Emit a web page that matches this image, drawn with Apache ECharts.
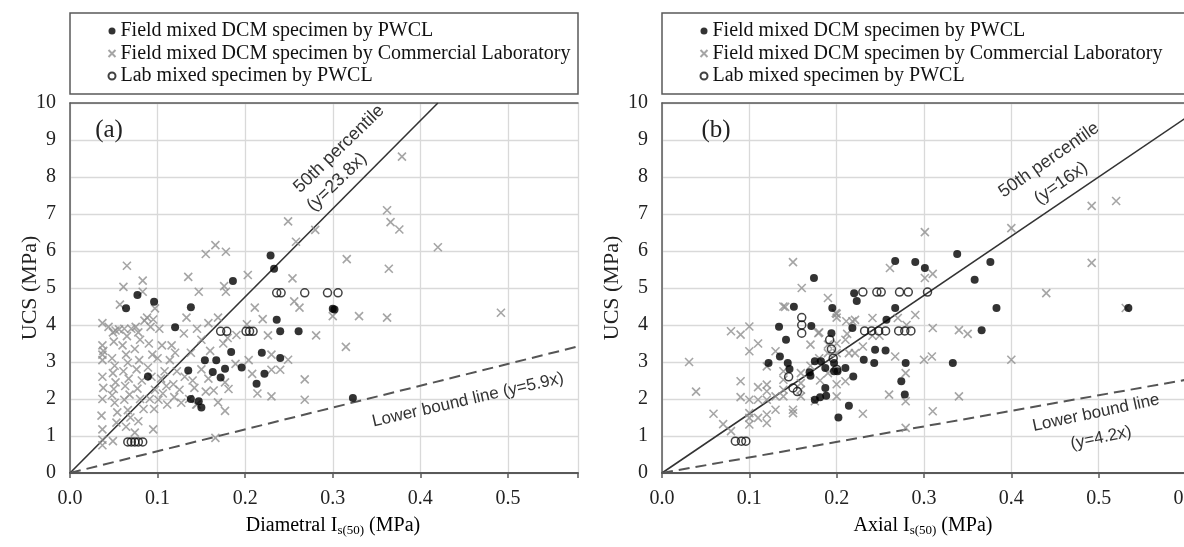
<!DOCTYPE html>
<html><head><meta charset="utf-8">
<script src="https://cdn.jsdelivr.net/npm/echarts@6/dist/echarts.min.js"></script>
<style>html,body{margin:0;padding:0;background:#fff}#c{width:1184px;height:547px}</style>
</head><body><div id="c"></div>
<script>
// ---------- DATA ----------
const seriesNames = ['Field mixed DCM specimen by PWCL', 'Field mixed DCM specimen by Commercial Laboratory', 'Lab mixed specimen by PWCL'];
const xTickValues = [0, 0.1, 0.2, 0.3, 0.4, 0.5, 0.6];
const yTickValues = [0, 1, 2, 3, 4, 5, 6, 7, 8, 9, 10];

// Panel (a): Diametral Is(50) vs UCS
const aPWCL = [[0.064,4.45],[0.077,4.81],[0.096,4.63],[0.138,4.48],[0.186,5.19],[0.229,5.88],[0.233,5.52],[0.236,4.14],[0.240,3.83],[0.261,3.83],[0.300,4.44],[0.302,4.42],[0.120,3.94],[0.184,3.27],[0.219,3.25],[0.240,3.11],[0.154,3.05],[0.167,3.05],[0.135,2.77],[0.163,2.73],[0.172,2.58],[0.177,2.82],[0.196,2.85],[0.213,2.41],[0.222,2.68],[0.138,2.0],[0.147,1.94],[0.150,1.77],[0.089,2.61],[0.323,2.03]];
const aLab = [[0.066,0.84],[0.070,0.84],[0.074,0.84],[0.078,0.84],[0.083,0.84],[0.172,3.83],[0.179,3.83],[0.201,3.83],[0.205,3.83],[0.209,3.83],[0.236,4.87],[0.241,4.87],[0.268,4.87],[0.294,4.87],[0.306,4.87]];
const aCommercial = [[0.065,5.6],[0.061,5.03],[0.083,5.2],[0.083,4.9],[0.057,4.55],[0.097,4.45],[0.135,5.3],[0.147,4.9],[0.155,5.92],[0.166,6.16],[0.178,5.98],[0.176,5.05],[0.178,4.9],[0.169,4.2],[0.203,5.35],[0.211,4.47],[0.220,4.16],[0.249,6.8],[0.258,6.25],[0.254,5.26],[0.256,4.64],[0.262,4.47],[0.280,6.57],[0.316,5.78],[0.362,7.1],[0.366,6.78],[0.376,6.58],[0.379,8.55],[0.420,6.1],[0.364,5.52],[0.300,4.24],[0.330,4.24],[0.362,4.2],[0.492,4.33],[0.226,3.72],[0.281,3.72],[0.315,3.41],[0.202,4.02],[0.158,4.05],[0.190,3.73],[0.204,3.05],[0.189,2.95],[0.230,3.2],[0.249,3.06],[0.208,2.68],[0.230,2.79],[0.240,2.79],[0.214,2.15],[0.230,2.07],[0.268,2.53],[0.268,1.98],[0.177,2.45],[0.181,2.27],[0.177,1.68],[0.158,2.55],[0.164,2.23],[0.169,1.91],[0.166,0.95],[0.130,3.77],[0.145,3.9],[0.150,3.6],[0.160,3.3],[0.175,3.5],[0.180,3.65],[0.150,2.8],[0.140,2.5],[0.155,2.2],[0.145,1.85],
[0.037,4.05],[0.037,3.45],[0.038,3.3],[0.037,3.2],[0.037,3.05],[0.037,2.6],[0.038,2.3],[0.037,2.0],[0.036,1.55],[0.037,1.18],[0.037,0.9],[0.037,0.75],
[0.049,3.8],[0.050,3.55],[0.048,3.1],[0.051,2.9],[0.049,2.7],[0.052,2.45],[0.050,2.27],[0.048,2.1],[0.051,1.9],[0.054,1.64],[0.053,1.36],[0.049,0.86],
[0.062,3.9],[0.065,3.7],[0.060,3.45],[0.064,3.2],[0.066,2.98],[0.061,2.75],[0.067,2.55],[0.063,2.35],[0.068,2.12],[0.062,1.98],[0.066,1.7],[0.069,1.5],[0.064,1.25],
[0.075,3.95],[0.078,3.8],[0.080,3.6],[0.074,3.35],[0.079,3.05],[0.076,2.8],[0.082,2.5],[0.077,2.28],[0.080,2.0],[0.084,1.73],[0.078,1.4],[0.074,1.09],
[0.088,4.2],[0.092,3.95],[0.090,3.5],[0.094,3.2],[0.089,2.85],[0.093,2.6],[0.097,2.25],[0.091,2.0],[0.096,1.73],[0.095,1.18],
[0.102,3.9],[0.105,3.45],[0.100,3.1],[0.108,2.75],[0.104,2.55],[0.110,2.35],[0.106,2.15],[0.101,1.98],[0.111,1.85],
[0.116,3.45],[0.120,3.25],[0.114,3.05],[0.122,2.75],[0.118,2.4],[0.125,2.25],[0.119,2.05],[0.127,1.9],
[0.133,4.2],[0.138,3.25],[0.131,2.6],[0.142,2.3],[0.136,2.0],[0.144,1.85],
[0.044,3.95],[0.052,3.85],[0.056,3.88],[0.070,3.9],[0.085,4.12],[0.095,4.15]];
const aLine50 = [[0, 0], [0.42, 10.0]];     // y = 23.8x
const aLineLow = [[0, 0], [0.58, 3.42]];    // y = 5.9x

// Panel (b): Axial Is(50) vs UCS
const bPWCL = [[0.174,5.27],[0.151,4.49],[0.195,4.46],[0.220,4.86],[0.223,4.65],[0.218,3.92],[0.194,3.78],[0.171,3.97],[0.134,3.95],[0.142,3.6],[0.267,5.73],[0.290,5.70],[0.301,5.54],[0.338,5.92],[0.376,5.70],[0.358,5.22],[0.383,4.46],[0.534,4.46],[0.267,4.46],[0.257,4.14],[0.366,3.86],[0.122,2.97],[0.135,3.15],[0.144,2.97],[0.146,2.81],[0.169,2.72],[0.170,2.63],[0.175,3.02],[0.175,1.98],[0.181,2.05],[0.187,2.30],[0.188,2.09],[0.182,3.02],[0.187,2.84],[0.197,2.97],[0.197,2.75],[0.201,2.75],[0.210,2.84],[0.202,1.50],[0.214,1.82],[0.219,2.61],[0.231,3.06],[0.243,2.97],[0.244,3.33],[0.256,3.31],[0.274,2.48],[0.279,2.97],[0.278,2.12],[0.333,2.97]];
const bLab = [[0.084,0.86],[0.091,0.86],[0.096,0.86],[0.160,4.2],[0.160,4.0],[0.160,3.78],[0.145,2.6],[0.150,2.3],[0.155,2.2],[0.192,3.6],[0.194,3.35],[0.196,3.1],[0.200,2.8],[0.230,4.89],[0.246,4.89],[0.251,4.89],[0.272,4.89],[0.282,4.89],[0.304,4.89],[0.232,3.84],[0.240,3.84],[0.248,3.84],[0.256,3.84],[0.271,3.84],[0.278,3.84],[0.285,3.84]];
const bCommercial = [[0.031,3.0],[0.039,2.2],[0.059,1.6],[0.070,1.32],[0.079,1.13],[0.079,3.83],[0.090,3.74],[0.100,3.96],[0.100,3.29],[0.090,2.48],[0.090,2.05],[0.100,1.98],[0.100,1.62],[0.100,1.49],[0.100,1.31],[0.110,3.50],[0.110,2.32],[0.110,1.98],[0.110,1.49],[0.120,2.39],[0.120,2.21],[0.120,1.98],[0.120,1.58],[0.120,1.35],[0.120,2.88],[0.130,3.29],[0.130,2.07],[0.130,1.71],[0.139,4.5],[0.139,2.75],[0.139,2.52],[0.139,2.25],[0.139,2.07],[0.150,1.71],[0.150,1.62],[0.159,2.70],[0.159,2.43],[0.159,2.25],[0.159,2.07],[0.150,5.7],[0.160,5.0],[0.141,4.49],[0.190,4.73],[0.200,4.30],[0.200,4.20],[0.211,4.10],[0.218,4.10],[0.212,3.76],[0.180,3.80],[0.241,4.19],[0.270,4.19],[0.290,4.27],[0.280,4.0],[0.301,6.51],[0.400,6.62],[0.492,7.22],[0.520,7.35],[0.492,5.68],[0.440,4.86],[0.531,4.46],[0.261,5.54],[0.301,5.27],[0.310,5.38],[0.310,3.92],[0.340,3.86],[0.350,3.76],[0.267,3.15],[0.260,2.12],[0.279,2.70],[0.279,1.94],[0.279,1.22],[0.300,3.06],[0.309,3.15],[0.310,1.67],[0.340,2.07],[0.400,3.06],[0.241,3.71],[0.249,3.71],[0.230,3.42],[0.230,1.60],[0.210,3.60],[0.210,2.48],[0.200,2.07],[0.181,2.50],[0.175,1.94],[0.179,3.78],[0.190,3.47],[0.199,4.32],[0.221,4.14],[0.214,3.24],[0.221,3.24],[0.190,3.24],[0.200,3.24],[0.170,3.47],[0.200,3.50],[0.180,3.1],[0.170,2.9],[0.190,2.7],[0.200,2.4]];
const bLine50 = [[0, 0], [0.6, 9.6]];       // y = 16x
const bLineLow = [[0, 0], [0.6, 2.52]];     // y = 4.2x

// ---------- STYLE ----------
const SERIF = 'Liberation Serif';
const SANS = 'Liberation Sans';
const AXIS_COLOR = '#595959';
const GRID_COLOR = '#d9d9d9';
const CROSS = 'path://M0,0L10,10M10,0L0,10';

function xLabel(v) {
  return Math.abs(v * 10 - Math.round(v * 10)) < 1e-6 ? v.toFixed(1) : '';
}
function bottomX(gridIndex, max) {
  return {
    type: 'value', gridIndex, min: 0, max, interval: 0.1, position: 'bottom',
    axisLine: { show: true, onZero: false, lineStyle: { color: AXIS_COLOR, width: 2 } },
    axisTick: { show: true, length: 5, lineStyle: { color: AXIS_COLOR, width: 1.5 } },
    axisLabel: { formatter: xLabel, fontFamily: SERIF, fontSize: 20, color: '#222', margin: 16, showMaxLabel: true, hideOverlap: false },
    splitLine: { show: true, lineStyle: { color: GRID_COLOR, width: 1.3 } }
  };
}
function topX(gridIndex) {
  return {
    type: 'value', gridIndex, min: 0, max: 1, position: 'top',
    axisLine: { show: true, onZero: false, lineStyle: { color: AXIS_COLOR, width: 1.5 } },
    axisTick: { show: false }, axisLabel: { show: false }, splitLine: { show: false }
  };
}
function leftY(gridIndex) {
  return {
    type: 'value', gridIndex, min: 0, max: 10, interval: 1,
    axisLine: { show: true, onZero: false, lineStyle: { color: AXIS_COLOR, width: 1.5 } },
    axisTick: { show: false },
    axisLabel: { fontFamily: SERIF, fontSize: 20, color: '#222', margin: 14 },
    splitLine: { show: true, lineStyle: { color: GRID_COLOR, width: 1.3 } }
  };
}
function crossSeries(data, idx) {
  return { name: seriesNames[1], type: 'scatter', xAxisIndex: idx, yAxisIndex: idx, data,
    symbol: CROSS, symbolSize: 8,
    itemStyle: { color: 'none', borderColor: '#8f8f8f', borderWidth: 1.6 }, z: 3 };
}
function dotSeries(data, idx) {
  return { name: seriesNames[0], type: 'scatter', xAxisIndex: idx, yAxisIndex: idx, data,
    symbol: 'circle', symbolSize: 8, itemStyle: { color: '#000' }, z: 4 };
}
function ringSeries(data, idx) {
  return { name: seriesNames[2], type: 'scatter', xAxisIndex: idx, yAxisIndex: idx, data,
    symbol: 'circle', symbolSize: 8,
    itemStyle: { color: 'rgba(0,0,0,0)', borderColor: '#111', borderWidth: 1.5 }, z: 5 };
}
function fitLine(data, idx, dashed) {
  return { type: 'line', xAxisIndex: idx, yAxisIndex: idx, data, symbol: 'none', silent: true,
    lineStyle: dashed ? { color: '#555', width: 2, type: [11, 6] } : { color: '#333', width: 1.6 }, z: 2 };
}
function legend(left) {
  return { orient: 'vertical', left, top: 16, itemGap: 2.5, itemWidth: 7, itemHeight: 7,
    data: seriesNames.slice(), selectedMode: false,
    textStyle: { fontFamily: SERIF, fontSize: 20, color: '#111', lineHeight: 20 } };
}
function annot(text, x, y, deg, size, opts) {
  return Object.assign({ type: 'text', x, y, rotation: deg * Math.PI / 180, z: 10,
    style: { text, fontFamily: SANS, fontSize: size || 17, fill: '#333', align: 'center', verticalAlign: 'middle' } }, opts || {});
}
function xTitle(main, x, y) {
  return { type: 'text', x, y, z: 10,
    style: { text: '{a|' + main + ' I}{b|s(50)}{a| (MPa)}', align: 'center', verticalAlign: 'middle',
      rich: { a: { fontFamily: SERIF, fontSize: 20, color: '#222', lineHeight: 22 },
              b: { fontFamily: SERIF, fontSize: 13, color: '#222', lineHeight: 13, padding: [10, 0, 0, 0] } } } };
}
function yTitle(x, y) {
  return { type: 'text', x, y, rotation: Math.PI / 2, z: 10,
    style: { text: 'UCS (MPa)', fontFamily: SERIF, fontSize: 22, fill: '#222', align: 'center', verticalAlign: 'middle' } };
}

const option = {
  animation: false,
  backgroundColor: '#fff',
  grid: [
    { left: 70, top: 103, width: 508, height: 370, containLabel: false, outerBoundsMode: 'none' },
    { left: 662, top: 103, width: 524, height: 370, containLabel: false, outerBoundsMode: 'none' }
  ],
  xAxis: [bottomX(0, 0.58), bottomX(1, 0.6), topX(0), topX(1)],
  yAxis: [leftY(0), leftY(1)],
  legend: [legend(101), legend(693)],
  series: [
    crossSeries(aCommercial, 0), dotSeries(aPWCL, 0), ringSeries(aLab, 0),
    fitLine(aLine50, 0, false), fitLine(aLineLow, 0, true),
    crossSeries(bCommercial, 1), dotSeries(bPWCL, 1), ringSeries(bLab, 1),
    fitLine(bLine50, 1, false), fitLine(bLineLow, 1, true)
  ],
  graphic: [
    { type: 'rect', shape: { x: 70, y: 13, width: 508, height: 81 }, style: { fill: 'none', stroke: AXIS_COLOR, lineWidth: 1.5 }, z: 1 },
    { type: 'rect', shape: { x: 662, y: 13, width: 530, height: 81 }, style: { fill: 'none', stroke: AXIS_COLOR, lineWidth: 1.5 }, z: 1 },
    { type: 'text', x: 109, y: 130, z: 10, style: { text: '(a)', fontFamily: SERIF, fontSize: 25, fill: '#222', align: 'center', verticalAlign: 'middle' } },
    { type: 'text', x: 716, y: 130, z: 10, style: { text: '(b)', fontFamily: SERIF, fontSize: 25, fill: '#222', align: 'center', verticalAlign: 'middle' } },
    annot('50th percentile', 339, 149, 44, 18),
    annot('(y=23.8x)', 337, 182, 44, 18),
    annot('Lower bound line (y=5.9x)', 468, 400, 13, 17),
    annot('50th percentile', 1049, 160, 35, 18),
    annot('(y=16x)', 1061, 183, 35, 18),
    annot('Lower bound line', 1096, 413, 12, 17),
    annot('(y=4.2x)', 1101, 438, 12, 17),
    yTitle(30, 288), yTitle(612, 288),
    xTitle('Diametral', 333, 526), xTitle('Axial', 923, 526)
  ]
};
echarts.init(document.getElementById('c'), null, { renderer: 'canvas' }).setOption(option);
</script></body></html>
